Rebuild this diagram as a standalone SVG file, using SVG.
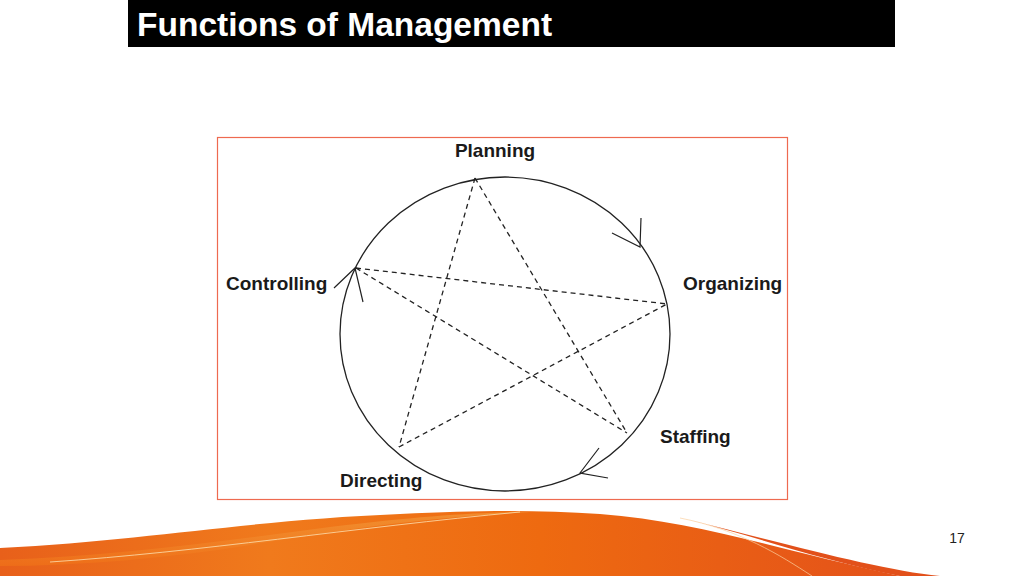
<svg xmlns="http://www.w3.org/2000/svg" width="1024" height="576" viewBox="0 0 1024 576">
<defs>
<linearGradient id="og" x1="0" y1="0" x2="1" y2="0">
<stop offset="0" stop-color="#e8601a"/>
<stop offset="0.3" stop-color="#f07a1c"/>
<stop offset="0.6" stop-color="#ee6a10"/>
<stop offset="1" stop-color="#e4521a"/>
</linearGradient>
<linearGradient id="og2" x1="0" y1="0" x2="0" y2="1">
<stop offset="0" stop-color="#f29a3a"/>
<stop offset="1" stop-color="#f07218"/>
</linearGradient>
</defs>
<style>
.lbl{font-family:"Liberation Sans",Arial,sans-serif;font-weight:bold;font-size:19px;fill:#1a1a1a}
.star{fill:none;stroke:#222;stroke-width:1.3;stroke-dasharray:5,4}
.arr{fill:none;stroke:#222;stroke-width:1.2}
</style>
<rect width="1024" height="576" fill="#ffffff"/>
<g id="title">
<rect x="128" y="0" width="767" height="47" fill="#000"/>
<text x="137" y="36" font-family="Liberation Sans,Arial,sans-serif" font-weight="bold" font-size="33.5" fill="#fff">Functions of Management</text>
</g>
<rect x="217.5" y="137.5" width="570" height="362" fill="#fff" stroke="#ee6a50" stroke-width="1.2"/>
<g id="cycle">
<ellipse cx="505" cy="334" rx="165" ry="157" fill="none" stroke="#222" stroke-width="1.3"/>
</g>
<g id="connectors">
<path class="star" d="M475,178 L399,447"/>
<path class="star" d="M475,178 L627,433"/>
<path class="star" d="M356,268 L667,304"/>
<path class="star" d="M356,268 L627,433"/>
<path class="star" d="M399,447 L667,304"/>
<path class="arr" d="M612,233 L640,247 L641,218"/>
<path class="arr" d="M334,288 L355,268 L363,302"/>
<path class="arr" d="M599,448 L580,473 L608,478"/>
</g>
<g id="planning"><text class="lbl" x="495" y="157" text-anchor="middle">Planning</text></g>
<g id="organizing"><text class="lbl" x="683" y="290">Organizing</text></g>
<g id="staffing"><text class="lbl" x="660" y="443">Staffing</text></g>
<g id="directing"><text class="lbl" x="340" y="487">Directing</text></g>
<g id="controlling"><text class="lbl" x="226" y="290">Controlling</text></g>
<g id="footer">
<path d="M0,548 C150,540 250,520 400,514 C480,510 540,510 600,514 C700,522 780,550 900,576 L0,576 Z" fill="url(#og)"/>
<path d="M0,560 C120,556 230,540 330,527 C420,516 480,512 530,512 C420,518 340,530 250,545 C170,558 80,566 0,566 Z" fill="url(#og2)" opacity="0.7"/>
<path d="M50,562 C200,552 350,528 520,512" fill="none" stroke="#fde0b0" stroke-width="1" opacity="0.8"/>
<path d="M680,518 C740,530 780,555 812,576" fill="none" stroke="#fbd0a0" stroke-width="1" opacity="0.7"/>
<path d="M690,520 C790,545 880,570 940,576 L900,576 C820,560 750,535 690,520 Z" fill="#e2501a"/>
<text x="957" y="543" font-family="Liberation Sans,Arial,sans-serif" font-size="14" fill="#222" text-anchor="middle">17</text>
</g>
</svg>
